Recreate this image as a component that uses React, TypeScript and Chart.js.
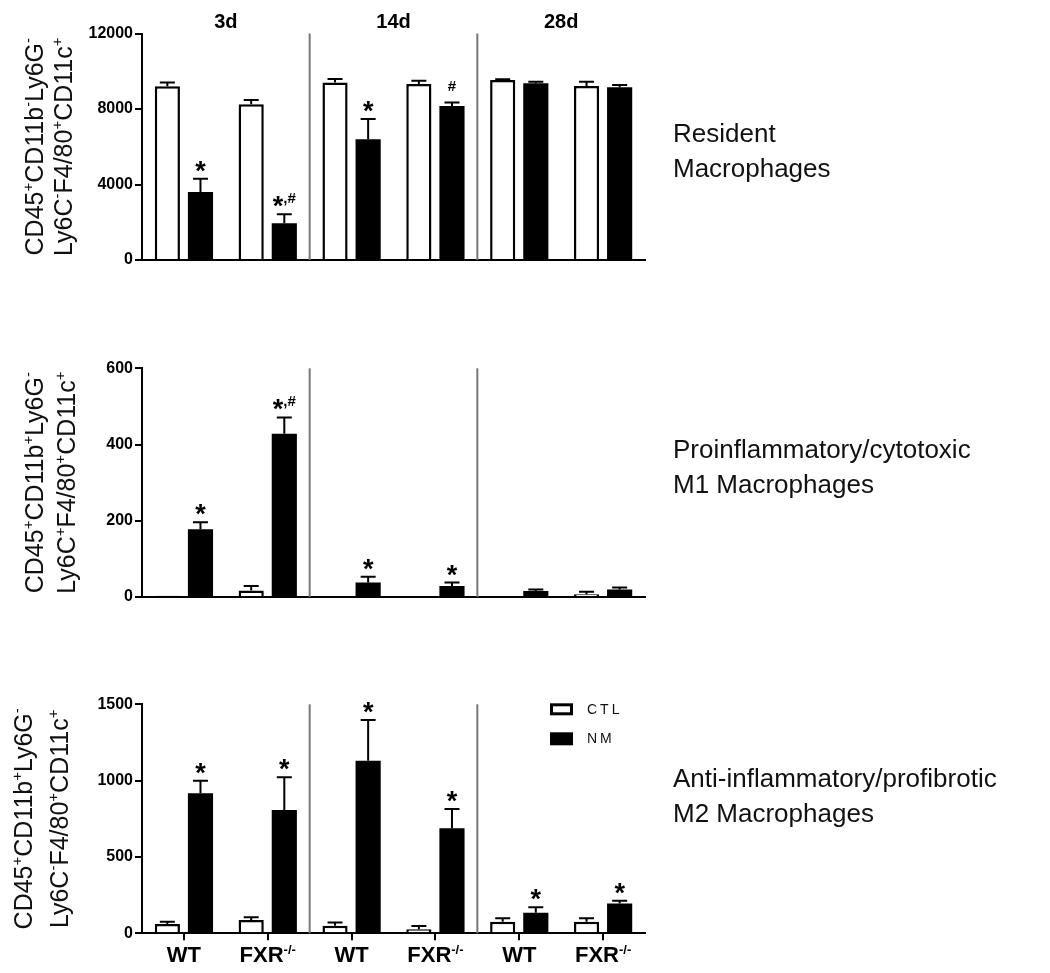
import React, { useEffect, useRef } from 'react';
import { Chart, registerables } from 'chart.js';

Chart.register(...registerables);

const FONT = '"Liberation Sans", Arial, Helvetica, sans-serif';

// ---------- data ----------
const groupLabels = ['WT', 'FXR^{-/-}', 'WT', 'FXR^{-/-}', 'WT', 'FXR^{-/-}'];
const timepoints = ['3d', '14d', '28d'];
const seriesNames = ['CTL', 'NM'];

const residentCTL = [9200, 8250, 9410, 9330, 9540, 9220];
const residentCTLsem = [200, 230, 180, 170, 40, 230];
const residentNM = [3600, 1950, 6400, 8160, 9360, 9150];
const residentNMsem = [700, 470, 1070, 190, 80, 120];
const residentMarks = ['*', '*,#', '*', '#', '', ''];
const residentTicks = [0, 4000, 8000, 12000];
const residentTitle = ['CD45^{+}CD11b^{-}Ly6G^{-}', 'Ly6C^{-}F4/80^{+}CD11c^{+}'];
const residentName = ['Resident', 'Macrophages'];

const m1CTL = [3, 17, 2, 2, 2, 7];
const m1CTLsem = [0, 12, 0, 0, 0, 7];
const m1NM = [178, 428, 38, 29, 16, 20];
const m1NMsem = [18, 43, 15, 9, 4, 5];
const m1Marks = ['*', '*,#', '*', '*', '', ''];
const m1Ticks = [0, 200, 400, 600];
const m1Title = ['CD45^{+}CD11b^{+}Ly6G^{-}', 'Ly6C^{+}F4/80^{+}CD11c^{+}'];
const m1Name = ['Proinflammatory/cytotoxic', 'M1 Macrophages'];

const m2CTL = [61, 87, 50, 26, 76, 76];
const m2CTLsem = [15, 18, 20, 22, 22, 22];
const m2NM = [917, 808, 1131, 688, 135, 196];
const m2NMsem = [83, 214, 266, 126, 35, 18];
const m2Marks = ['*', '*', '*', '*', '*', '*'];
const m2Ticks = [0, 500, 1000, 1500];
const m2Title = ['CD45^{+}CD11b^{+}Ly6G^{-}', 'Ly6C^{-}F4/80^{+}CD11c^{+}'];
const m2Name = ['Anti-inflammatory/profibrotic', 'M2 Macrophages'];

// ---------- rich text helpers ----------
type Seg = { text: string; sup: boolean };
function parseRich(s: string): Seg[] {
  const out: Seg[] = [];
  const re = /\^\{([^}]*)\}/g;
  let last = 0;
  let m: RegExpExecArray | null;
  while ((m = re.exec(s))) {
    if (m.index > last) out.push({ text: s.slice(last, m.index), sup: false });
    out.push({ text: m[1], sup: true });
    last = m.index + m[0].length;
  }
  if (last < s.length) out.push({ text: s.slice(last), sup: false });
  return out;
}
function drawRich(
  ctx: CanvasRenderingContext2D,
  s: string,
  x: number,
  y: number,
  size: number,
  supSize: number,
  weight: string,
  align: 'center' | 'left'
) {
  const segs = parseRich(s);
  let w = 0;
  for (const sg of segs) {
    ctx.font = `${weight} ${sg.sup ? supSize : size}px ${FONT}`;
    w += ctx.measureText(sg.text).width;
  }
  let cx = align === 'center' ? x - w / 2 : x;
  ctx.textAlign = 'left';
  ctx.textBaseline = 'alphabetic';
  for (const sg of segs) {
    ctx.font = `${weight} ${sg.sup ? supSize : size}px ${FONT}`;
    ctx.fillText(sg.text, cx, sg.sup ? y - size * 0.4 : y);
    cx += ctx.measureText(sg.text).width;
  }
}

type PanelCfg = {
  top: number;
  height: number;
  areaTop: number;
  areaBottom: number;
  ctl: number[];
  ctlSem: number[];
  nm: number[];
  nmSem: number[];
  marks: string[];
  ticks: number[];
  title: string[];
  titleX: number[];
  name: string[];
  nameY: number[];
  showTime: boolean;
  showX: boolean;
  showLegend: boolean;
};

const PLOT_LEFT = 142;
const PLOT_RIGHT = 645;
const W = 1050;

function makePlugin(cfg: PanelCfg) {
  return {
    id: 'decor',
    afterDatasetsDraw(chart: any) {
      const ctx: CanvasRenderingContext2D = chart.ctx;
      const area = chart.chartArea;
      const xs = chart.scales.x;
      const ys = chart.scales.y;
      const per = groupLabels.length / timepoints.length;
      ctx.save();
      // separators
      ctx.strokeStyle = '#777';
      ctx.lineWidth = 2;
      for (let t = 1; t < timepoints.length; t++) {
        const px = (xs.getPixelForValue(t * per - 1) + xs.getPixelForValue(t * per)) / 2;
        ctx.beginPath();
        ctx.moveTo(px, area.top);
        ctx.lineTo(px, area.bottom);
        ctx.stroke();
      }
      // error bars + marks
      const sems = [cfg.ctlSem, cfg.nmSem];
      const vals = [cfg.ctl, cfg.nm];
      for (let di = 0; di < 2; di++) {
        const meta = chart.getDatasetMeta(di);
        meta.data.forEach((el: any, i: number) => {
          const v = vals[di][i];
          const e = sems[di][i];
          const yBar = ys.getPixelForValue(v);
          const yTop = ys.getPixelForValue(v + e);
          ctx.strokeStyle = '#000';
          ctx.lineWidth = 2;
          if (e > 0) {
            ctx.beginPath();
            ctx.moveTo(el.x, yBar);
            ctx.lineTo(el.x, yTop);
            ctx.moveTo(el.x - 7.5, yTop);
            ctx.lineTo(el.x + 7.5, yTop);
            ctx.stroke();
          }
          if (di === 1) {
            const mk = cfg.marks[i];
            if (mk) {
              ctx.fillStyle = '#000';
              ctx.textAlign = 'left';
              ctx.textBaseline = 'alphabetic';
              const big = `bold 27px ${FONT}`;
              const small = `bold 15px ${FONT}`;
              let tw = 0;
              for (const ch of mk) {
                ctx.font = ch === '*' ? big : small;
                tw += ctx.measureText(ch).width;
              }
              let cx = el.x - tw / 2;
              for (const ch of mk) {
                ctx.font = ch === '*' ? big : small;
                ctx.fillText(ch, cx, ch === '*' ? yTop + 1 : yTop - 11);
                cx += ctx.measureText(ch).width;
              }
            }
          }
        });
      }
      ctx.restore();
    },
    afterDraw(chart: any) {
      const ctx: CanvasRenderingContext2D = chart.ctx;
      const area = chart.chartArea;
      const xs = chart.scales.x;
      const per = groupLabels.length / timepoints.length;
      ctx.save();
      ctx.fillStyle = '#000';
      // y titles (rotated rich text)
      const cy = (area.top + area.bottom) / 2;
      cfg.title.forEach((line, k) => {
        ctx.save();
        ctx.translate(cfg.titleX[k], cy);
        ctx.rotate(-Math.PI / 2);
        ctx.fillStyle = '#111';
        drawRich(ctx, line, 0, 0, 25, 15, 'normal', 'center');
        ctx.restore();
      });
      // time titles
      if (cfg.showTime) {
        timepoints.forEach((tp, t) => {
          const px = (xs.getPixelForValue(t * per) + xs.getPixelForValue(t * per + per - 1)) / 2;
          ctx.font = `bold 20px ${FONT}`;
          ctx.textAlign = 'center';
          ctx.textBaseline = 'alphabetic';
          ctx.fillText(tp, px, 28);
        });
      }
      // x labels
      if (cfg.showX) {
        groupLabels.forEach((lab, i) => {
          const px = xs.getPixelForValue(i);
          drawRich(ctx, lab, px, area.bottom + 29, 22, 13, 'bold', 'center');
        });
      }
      // right side names
      ctx.fillStyle = '#111';
      ctx.font = `normal 26px ${FONT}`;
      ctx.textAlign = 'left';
      ctx.textBaseline = 'alphabetic';
      cfg.name.forEach((ln, k) => ctx.fillText(ln, 673, cfg.nameY[k]));
      // legend
      if (cfg.showLegend) {
        const lx = 550;
        const ly = area.top - 1;
        chart.data.datasets.forEach((ds: any, k: number) => {
          const by = ly + k * 29;
          if (k === 0) {
            ctx.fillStyle = '#000';
            ctx.fillRect(lx, by, 23, 12);
            ctx.fillStyle = '#fff';
            ctx.fillRect(lx + 3, by + 3, 17, 6);
          } else {
            ctx.fillStyle = '#000';
            ctx.fillRect(lx, by, 23, 13);
          }
          ctx.fillStyle = '#111';
          ctx.font = `normal 14px ${FONT}`;
          (ctx as any).letterSpacing = '3px';
          ctx.textAlign = 'left';
          ctx.textBaseline = 'middle';
          ctx.fillText(ds.label, lx + 37, by + 6.5);
          (ctx as any).letterSpacing = '0px';
        });
      }
      ctx.restore();
    },
  };
}

const panels: PanelCfg[] = [
  {
    top: 0, height: 290, areaTop: 33.5, areaBottom: 260,
    ctl: residentCTL, ctlSem: residentCTLsem, nm: residentNM, nmSem: residentNMsem,
    marks: residentMarks, ticks: residentTicks, title: residentTitle, titleX: [43, 72],
    name: residentName, nameY: [142, 177], showTime: true, showX: false, showLegend: false,
  },
  {
    top: 290, height: 330, areaTop: 78.3, areaBottom: 307,
    ctl: m1CTL, ctlSem: m1CTLsem, nm: m1NM, nmSem: m1NMsem,
    marks: m1Marks, ticks: m1Ticks, title: m1Title, titleX: [43, 75],
    name: m1Name, nameY: [168, 203], showTime: false, showX: false, showLegend: false,
  },
  {
    top: 620, height: 353, areaTop: 84.3, areaBottom: 313.3,
    ctl: m2CTL, ctlSem: m2CTLsem, nm: m2NM, nmSem: m2NMsem,
    marks: m2Marks, ticks: m2Ticks, title: m2Title, titleX: [32, 68],
    name: m2Name, nameY: [167, 202], showTime: false, showX: true, showLegend: true,
  },
];

function Panel({ cfg }: { cfg: PanelCfg }) {
  const ref = useRef<HTMLCanvasElement | null>(null);
  useEffect(() => {
    if (!ref.current) return;
    const max = cfg.ticks[cfg.ticks.length - 1];
    const step = cfg.ticks[1] - cfg.ticks[0];
    const chart = new Chart(ref.current, {
      type: 'bar',
      data: {
        labels: groupLabels,
        datasets: [
          {
            label: seriesNames[0],
            data: cfg.ctl,
            backgroundColor: '#fff',
            borderColor: '#000',
            borderWidth: 2.5,
            borderSkipped: 'start',
            categoryPercentage: 0.79,
            barPercentage: 0.76,
          },
          {
            label: seriesNames[1],
            data: cfg.nm,
            backgroundColor: '#000',
            borderColor: '#000',
            borderWidth: 0,
            categoryPercentage: 0.79,
            barPercentage: 0.76,
          },
        ],
      },
      options: {
        responsive: false,
        animation: false,
        devicePixelRatio: 1,
        layout: {
          padding: { left: 0, right: W - PLOT_RIGHT, top: cfg.areaTop, bottom: 0 },
        },
        plugins: {
          legend: { display: false },
          tooltip: { enabled: false },
          title: { display: false },
        },
        scales: {
          x: {
            type: 'category',
            offset: true,
            grid: {
              display: cfg.showX,
              drawOnChartArea: false,
              drawTicks: cfg.showX,
              tickLength: 7,
              offset: false,
              color: '#000',
              lineWidth: 2,
            },
            border: { display: true, color: '#000', width: 2 },
            ticks: { display: false },
            afterFit: (s: any) => {
              s.height = cfg.height - cfg.areaBottom;
            },
          },
          y: {
            min: 0,
            max,
            border: { display: true, color: '#000', width: 2 },
            grid: {
              display: true,
              drawOnChartArea: false,
              drawTicks: true,
              tickLength: 7,
              color: '#000',
              lineWidth: 2,
            },
            ticks: {
              stepSize: step,
              color: '#000',
              padding: 2,
              font: { family: FONT, size: 16, weight: 'bold' },
              callback: (v: any) => String(v),
            },
            afterFit: (s: any) => {
              s.width = PLOT_LEFT;
            },
          },
        },
      },
      plugins: [makePlugin(cfg)],
    } as any);
    return () => chart.destroy();
  }, [cfg]);
  return (
    <canvas
      ref={ref}
      width={W}
      height={cfg.height}
      style={{ position: 'absolute', left: 0, top: cfg.top, width: W, height: cfg.height }}
    />
  );
}

export default function App() {
  return (
    <div
      style={{
        position: 'absolute',
        left: 0,
        top: 0,
        width: W,
        height: 973,
        background: '#fff',
        overflow: 'hidden',
      }}
    >
      {panels.map((p, i) => (
        <Panel key={i} cfg={p} />
      ))}
    </div>
  );
}
